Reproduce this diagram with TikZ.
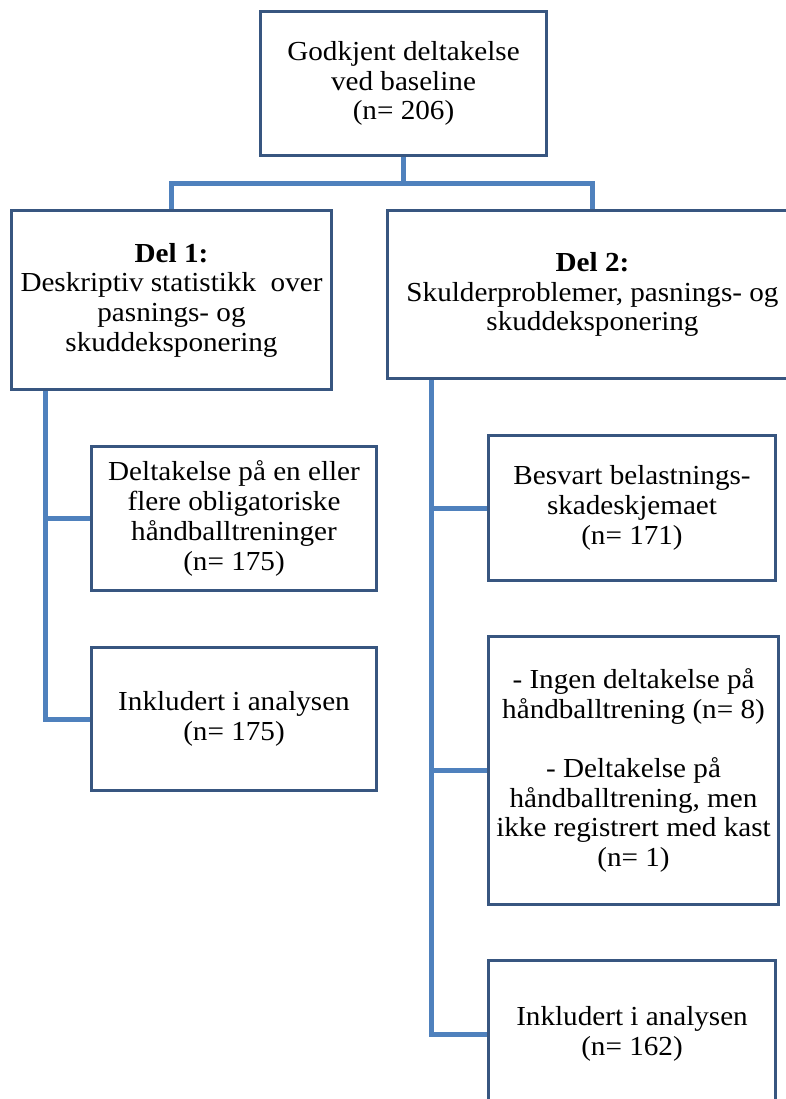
\documentclass[tikz,border=0pt]{standalone}
\usepackage{fontspec}
\setmainfont{Liberation Serif}[FakeStretch=1.06]
\definecolor{connblue}{RGB}{79,129,189}
\definecolor{boxline}{RGB}{56,86,128}
\begin{document}
\begin{tikzpicture}[x=1pt,y=-1pt,
  box/.style={draw=boxline, line width=1.8pt, fill=white, align=center, inner sep=0pt,
    font=\fontsize{27.5}{29.7}\selectfont},
  conn/.style={draw=connblue, line width=5pt}]
\useasboundingbox (0,0) rectangle (786,1099);
\clip (0,0) rectangle (786,1099);
% boxes
\node[box, minimum width=285pt, minimum height=143pt] (top) at (403.5,83.5)
  {Godkjent deltakelse\\ved baseline\\(n= 206)};
\node[box, minimum width=319pt, minimum height=178pt] (del1) at (171.5,300)
  {\textbf{Del 1:}\\Deskriptiv statistikk~ over\\pasnings- og\\skuddeksponering};
\node[box, minimum width=409pt, minimum height=167pt] (del2) at (592.5,294.5)
  {\textbf{Del 2:}\\Skulderproblemer, pasnings- og\\skuddeksponering};
\node[box, minimum width=284pt, minimum height=143pt] (delt) at (234,518.5)
  {Deltakelse på en eller\\flere obligatoriske\\håndballtreninger\\(n= 175)};
\node[box, minimum width=284pt, minimum height=142pt] (inkl1) at (234,719)
  {Inkludert i analysen\\(n= 175)};
\node[box, minimum width=286pt, minimum height=144pt] (besv) at (632,508)
  {Besvart belastnings-\\skadeskjemaet\\(n= 171)};
\node[box, minimum width=289pt, minimum height=267pt] (ingen) at (633.5,770.5)
  {- Ingen deltakelse på\\håndballtrening (n= 8)\\[29.7pt]- Deltakelse på\\håndballtrening, men\\ikke registrert med kast\\(n= 1)};
\node[box, minimum width=286pt, minimum height=146pt] (inkl2) at (632,1034)
  {Inkludert i analysen\\(n= 162)};
% connectors
\coordinate (hub) at (403.5,184);
\draw[conn] (top.south) -- (hub);
\draw[conn] (hub) -| (del1.north);
\draw[conn] (hub) -| (del2.north);
\draw[conn] ([xshift=34pt]del1.south west) |- (delt.west);
\draw[conn] ([xshift=34pt]del1.south west) |- (inkl1.west);
\draw[conn] ([xshift=44pt]del2.south west) |- (besv.west);
\draw[conn] ([xshift=44pt]del2.south west) |- (ingen.west);
\draw[conn] ([xshift=44pt]del2.south west) |- (inkl2.west);
% redraw borders on top of connector ends
\foreach \n in {top,del1,del2,delt,inkl1,besv,ingen,inkl2}
  \draw[boxline, line width=1.8pt] (\n.south west) rectangle (\n.north east);
\end{tikzpicture}
\end{document}
